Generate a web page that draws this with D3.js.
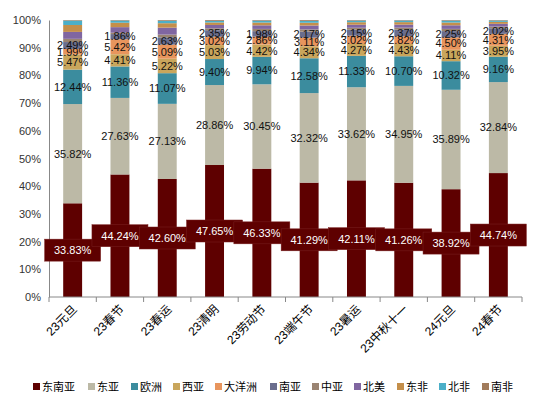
<!DOCTYPE html>
<html>
<head>
<meta charset="utf-8">
<script src="https://cdn.jsdelivr.net/npm/d3@7"></script>
<style>
  html, body { margin: 0; padding: 0; background: #fff; }
  svg { display: block; font-family: "Liberation Sans", Arial, "Noto Sans CJK SC", sans-serif; }
</style>
</head>
<body>
<svg id="chart" width="550" height="399"></svg>
<script>
const categories = ['23元旦', '23春节', '23春运', '23清明', '23劳动节', '23端午节', '23暑运', '23中秋十一', '24元旦', '24春节'];
const regions = ['东南亚', '东亚', '欧洲', '西亚', '大洋洲', '南亚', '中亚', '北美', '东非', '北非', '南非'];
const colors = ['#5e0000', '#bcb9a6', '#3b8c9e', '#c9a65c', '#e8955d', '#6a6d8d', '#9a8472', '#8066a1', '#c48f4a', '#4cafc8', '#a17b5b'];

// share of each region, %
const seAsia = [33.83, 44.24, 42.60, 47.65, 46.33, 41.29, 42.11, 41.26, 38.92, 44.74];
const eAsia = [35.82, 27.63, 27.13, 28.86, 30.45, 32.32, 33.62, 34.95, 35.89, 32.84];
const europe = [12.44, 11.36, 11.07, 9.40, 9.94, 12.58, 11.33, 10.70, 10.32, 9.16];
const wAsia = [5.47, 4.41, 5.22, 5.03, 4.42, 4.34, 4.27, 4.43, 4.11, 3.95];
const oceania = [1.99, 5.42, 5.09, 3.02, 2.86, 3.11, 3.02, 2.82, 4.50, 4.31];
const sAsia = [2.49, 1.86, 2.63, 2.35, 1.98, 2.17, 2.15, 2.37, 2.25, 2.02];
// small top segments
const cAsia = [1.16, 0.50, 1.00, 0.70, 0.80, 0.80, 0.70, 0.70, 0.80, 0.60];
const nAmerica = [2.50, 2.00, 2.50, 1.20, 1.30, 1.40, 1.10, 1.10, 1.30, 1.00];
const eAfrica = [2.50, 1.60, 1.60, 0.90, 1.00, 1.00, 0.90, 0.90, 1.00, 0.70];
const nAfrica = [1.60, 0.80, 0.90, 0.60, 0.70, 0.70, 0.60, 0.60, 0.70, 0.50];
const sAfrica = [0.20, 0.18, 0.26, 0.29, 0.22, 0.29, 0.20, 0.17, 0.21, 0.18];

const seriesValues = [seAsia, eAsia, europe, wAsia, oceania, sAsia, cAsia, nAmerica, eAfrica, nAfrica, sAfrica];
const labelled = 6; // first six series carry data labels
const yTicks = [0, 10, 20, 30, 40, 50, 60, 70, 80, 90, 100];

const rows = categories.map((c, i) => {
  const r = { cat: c };
  regions.forEach((k, j) => { r[k] = seriesValues[j][i]; });
  return r;
});

const svg = d3.select('#chart');
const m = { left: 49, right: 522, top: 20, bottom: 297 };

const x = d3.scaleBand().domain(categories).range([m.left, m.right]).paddingInner(0.6).paddingOuter(0.3);
const xb = d3.scaleBand().domain(categories).range([m.left, m.right]);
const y = d3.scaleLinear().domain([0, 100]).range([m.bottom, m.top]);

const stacked = d3.stack().keys(regions)(rows);

// y axis
const yAxis = svg.append('g')
  .attr('transform', `translate(${m.left},0)`)
  .call(d3.axisLeft(y).tickValues(yTicks).tickSize(0).tickPadding(8).tickFormat(d => d + '%'));
yAxis.select('.domain').attr('stroke', '#888');
yAxis.selectAll('text').attr('font-size', 11).attr('fill', '#333');

// bars
svg.append('g').selectAll('g')
  .data(stacked)
  .join('g')
  .attr('fill', (d, i) => colors[i])
  .selectAll('rect')
  .data(d => d)
  .join('rect')
  .attr('x', d => x(d.data.cat))
  .attr('width', x.bandwidth())
  .attr('y', d => y(d[1]))
  .attr('height', d => y(d[0]) - y(d[1]));

// x axis
const xAxis = svg.append('g')
  .attr('transform', `translate(0,${m.bottom})`);
xAxis.append('line')
  .attr('x1', m.left).attr('x2', m.right)
  .attr('stroke', '#888');
xAxis.selectAll('line.tick')
  .data(categories.concat(['end']))
  .join('line')
  .attr('class', 'tick')
  .attr('x1', (d, i) => i < categories.length ? xb(d) : m.right)
  .attr('x2', (d, i) => i < categories.length ? xb(d) : m.right)
  .attr('y1', 0).attr('y2', 5)
  .attr('stroke', '#888');
xAxis.selectAll('text')
  .data(categories)
  .join('text')
  .attr('transform', d => `translate(${xb(d) + xb.bandwidth() / 2 + 5},${13}) rotate(-45)`)
  .attr('text-anchor', 'end')
  .attr('font-size', 12)
  .attr('fill', '#000')
  .text(d => d);

// data labels for the upper series
const lbl = svg.append('g');
stacked.slice(1, labelled).forEach(s => {
  lbl.selectAll(null)
    .data(s)
    .join('text')
    .attr('x', d => x(d.data.cat) + x.bandwidth() / 2)
    .attr('y', d => y((d[0] + d[1]) / 2))
    .attr('dy', '0.35em')
    .attr('text-anchor', 'middle')
    .attr('font-size', 11)
    .attr('fill', '#111')
    .text(d => (d[1] - d[0]).toFixed(2) + '%');
});

// boxed labels for 东南亚
const box = svg.append('g').selectAll('g')
  .data(stacked[0])
  .join('g')
  .attr('transform', d => `translate(${x(d.data.cat) + x.bandwidth() / 2},${y((d[0] + d[1]) / 2)})`);
box.append('rect')
  .attr('x', -28).attr('y', -11)
  .attr('width', 56).attr('height', 22)
  .attr('fill', colors[0])
  .attr('stroke', '#7a2020')
  .attr('stroke-width', 0.5);
box.append('text')
  .attr('text-anchor', 'middle')
  .attr('dy', '0.35em')
  .attr('font-size', 11)
  .attr('fill', '#fff')
  .text(d => (d[1] - d[0]).toFixed(2) + '%');

// legend
const legendX = [33, 88, 131, 173, 215, 270, 312, 354, 397, 439, 482];
const legend = svg.append('g').selectAll('g')
  .data(regions)
  .join('g')
  .attr('transform', (d, i) => `translate(${legendX[i]},387)`);
legend.append('rect')
  .attr('x', 0).attr('y', -4)
  .attr('width', 7).attr('height', 7)
  .attr('fill', (d, i) => colors[i]);
legend.append('text')
  .attr('x', 9)
  .attr('dy', '0.35em')
  .attr('font-size', 11)
  .attr('fill', '#000')
  .text(d => d);
</script>
</body>
</html>
